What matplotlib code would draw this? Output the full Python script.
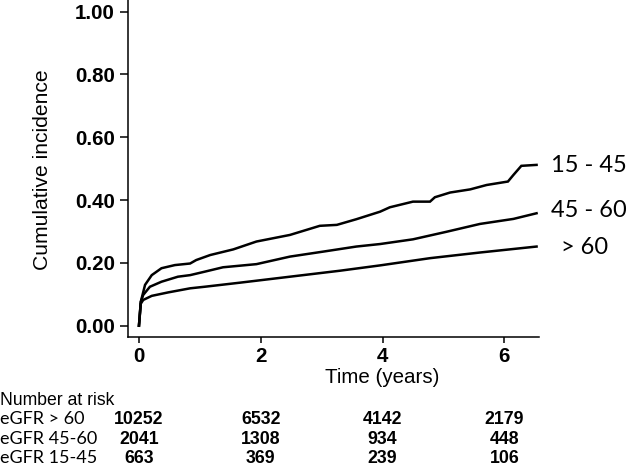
import matplotlib
matplotlib.use("Agg")
import matplotlib.pyplot as plt
import matplotlib.transforms as mtransforms
from matplotlib.font_manager import FontProperties

# cumulative incidence curves
t_1545 = [0, 0.03, 0.10, 0.21, 0.37, 0.59, 0.84, 0.94, 1.17, 1.55, 1.93, 2.48, 2.97, 3.25,
          3.57, 3.96, 4.12, 4.50, 4.78, 4.86, 5.11, 5.44, 5.71, 6.06, 6.15, 6.28, 6.53]
ci_1545 = [0, 0.076, 0.130, 0.161, 0.183, 0.193, 0.198, 0.209, 0.225, 0.243, 0.268, 0.289, 0.318, 0.321,
           0.339, 0.363, 0.377, 0.395, 0.395, 0.409, 0.424, 0.434, 0.448, 0.459, 0.480, 0.509, 0.512]

t_4560 = [0, 0.03, 0.07, 0.18, 0.37, 0.64, 0.84, 1.08, 1.38, 1.93, 2.48, 3.03, 3.57, 3.96,
          4.50, 5.05, 5.60, 6.15, 6.53]
ci_4560 = [0, 0.076, 0.098, 0.124, 0.140, 0.156, 0.161, 0.172, 0.186, 0.196, 0.220, 0.236, 0.252, 0.260,
           0.275, 0.299, 0.324, 0.340, 0.358]

t_60 = [0, 0.03, 0.07, 0.21, 0.48, 0.84, 1.08, 1.66, 2.48, 3.30, 3.96, 4.78, 5.60, 6.53]
ci_60 = [0, 0.070, 0.082, 0.095, 0.106, 0.119, 0.124, 0.137, 0.156, 0.175, 0.192, 0.215, 0.233, 0.252]

curve_labels = ["15 - 45", "45 - 60", "> 60"]

# number at risk table
risk_times = [0, 2, 4, 6]
risk_groups = ["eGFR > 60", "eGFR 45-60", "eGFR 15-45"]
risk_60 = [10252, 6532, 4142, 2179]
risk_4560 = [2041, 1308, 934, 448]
risk_1545 = [663, 369, 239, 106]

W, H = 630, 465
fig = plt.figure(figsize=(6.3, 4.65), dpi=100)
ax = fig.add_axes([128 / W, (H - 336.5) / H, (539 - 128) / W, 336.5 / H])

for t, ci in [(t_1545, ci_1545), (t_4560, ci_4560), (t_60, ci_60)]:
    ax.plot(t, ci, color="black", lw=1.8, solid_joinstyle="miter")

ax.set_xlim(-0.18, 6.57)
ax.set_ylim(-0.0344, 1.037)
ax.set_xticks([0, 2, 4, 6])
ax.set_yticks([0, 0.2, 0.4, 0.6, 0.8, 1.0])
ax.set_yticklabels(["%.2f" % v for v in [0, 0.2, 0.4, 0.6, 0.8, 1.0]])
for s in ["top", "right"]:
    ax.spines[s].set_visible(False)
for s in ["left", "bottom"]:
    ax.spines[s].set_linewidth(1.1)

tick_font = FontProperties(family="Liberation Sans", size=14.8, weight="bold")
for lab in ax.get_xticklabels() + ax.get_yticklabels():
    lab.set_fontproperties(tick_font)
ax.tick_params(axis="y", length=6, width=1.1, pad=3.5)
ax.tick_params(axis="x", length=4.5, width=1.1, pad=3)

ax.set_ylabel("Cumulative incidence", family="Liberation Sans", fontsize=15.2)
ax.yaxis.set_label_coords((52 - 128) / 411, 0.495)


def fy(py):
    # figure fraction from a pixel row
    return 1 - py / H


bt = mtransforms.blended_transform_factory(ax.transData, fig.transFigure)
ax.text(4.0, fy(377), "Time (years)", transform=bt, ha="center", va="center",
        family="Liberation Sans", fontsize=14.8)

# labels at the right end of curves
label_pos = [(551, 165), (551, 210), (561, 247)]
for lab, (px, py) in zip(curve_labels, label_pos):
    fig.text(px / W, fy(py), lab, ha="left", va="center", family="Lato", fontsize=17)

# number at risk
fig.text(0, fy(400), "Number at risk", ha="left", va="center",
         family="Liberation Sans", fontsize=12.7)
row_y = [419, 439, 458]
for name, counts, py in zip(risk_groups, [risk_60, risk_4560, risk_1545], row_y):
    fig.text(0, fy(py), name, ha="left", va="center", family="Lato", fontsize=13)
    for t, n in zip(risk_times, counts):
        ax.text(t, fy(py), str(n), transform=bt, ha="center", va="center",
                family="Liberation Sans", fontsize=12.8, weight="bold")

fig.savefig("out.png", dpi=100)
